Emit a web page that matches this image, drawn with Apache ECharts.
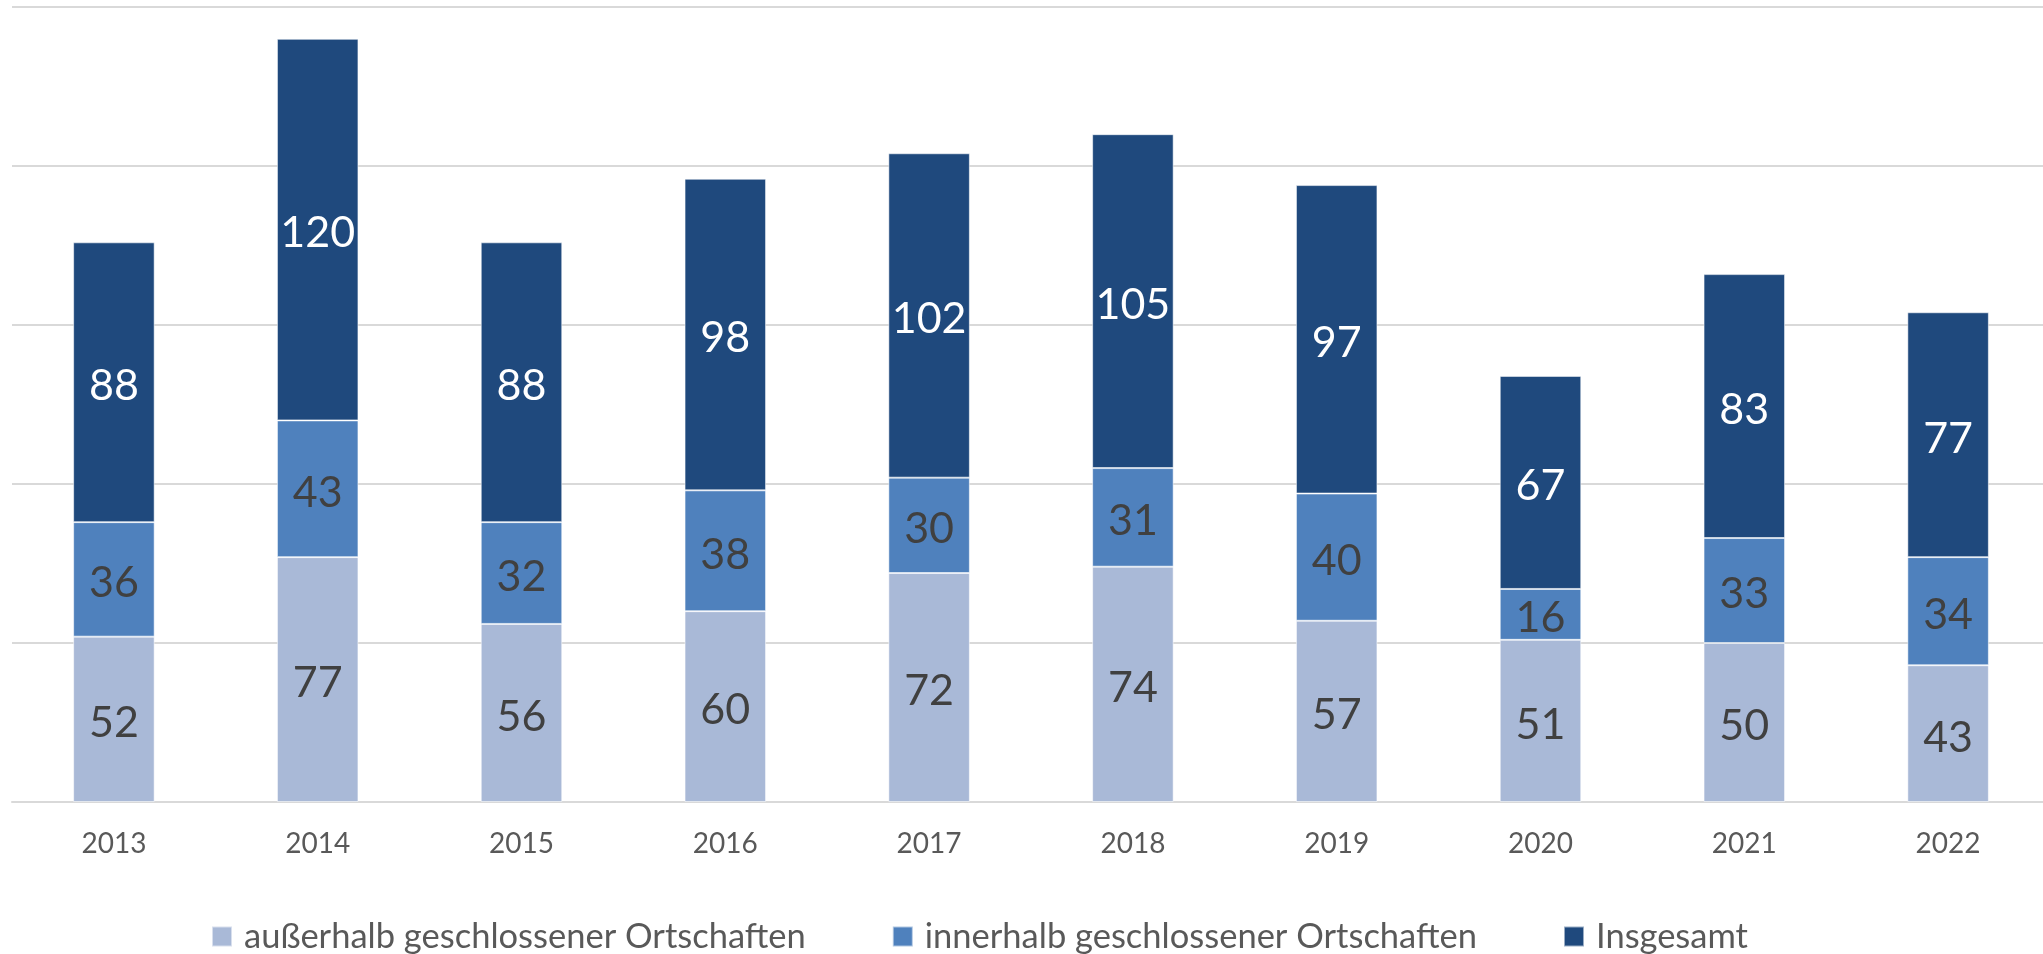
<!DOCTYPE html>
<html>
<head>
<meta charset="utf-8">
<script src="https://cdn.jsdelivr.net/npm/echarts@6/dist/echarts.min.js"></script>
<style>
  html, body { margin: 0; padding: 0; background: #fff; }
  #chart { width: 2043px; height: 954px; }
</style>
</head>
<body>
<div id="chart"></div>
<script>
const years = ["2013", "2014", "2015", "2016", "2017", "2018", "2019", "2020", "2021", "2022"];
const ausserhalb = [52, 77, 56, 60, 72, 74, 57, 51, 50, 43];
const innerhalb = [36, 43, 32, 38, 30, 31, 40, 16, 33, 34];
const insgesamt = [88, 120, 88, 98, 102, 105, 97, 67, 83, 77];

const COLORS = {
  ausserhalb: "#a9b9d7",
  innerhalb: "#4f81bd",
  insgesamt: "#1f497d",
};

const FONT = "Lato";

function barSeries(name, data, color, labelColor) {
  return {
    name: name,
    type: "bar",
    stack: "total",
    barWidth: "40%",
    data: data,
    itemStyle: {
      color: color,
      borderColor: "rgba(255,255,255,0.55)",
      borderWidth: 1,
    },
    label: {
      show: true,
      position: "inside",
      offset: [0, 4],
      color: labelColor,
      fontFamily: FONT,
      fontSize: 43,
    },
  };
}

const chart = echarts.init(document.getElementById("chart"));

const option = {
  animation: false,
  grid: {
    left: 12,
    top: 7,
    width: 2038,
    bottom: 152,
    outerBoundsMode: "none",
    containLabel: false,
  },
  legend: {
    left: 206,
    top: 914,
    itemWidth: 20,
    itemHeight: 20,
    itemGap: 86,
    icon: "rect",
    textStyle: {
      fontFamily: FONT,
      fontSize: 34.5,
      color: "#595959",
      padding: [0, 0, 0, 7],
    },
    data: ["außerhalb geschlossener Ortschaften", "innerhalb geschlossener Ortschaften", "Insgesamt"],
  },
  xAxis: {
    type: "category",
    data: years,
    axisLine: { lineStyle: { color: "#d9d9d9", width: 2 } },
    axisTick: { show: false },
    axisLabel: {
      color: "#595959",
      fontFamily: FONT,
      fontSize: 28,
      margin: 28,
    },
  },
  yAxis: {
    type: "value",
    min: 0,
    max: 250,
    interval: 50,
    axisLabel: { show: false },
    axisLine: { show: false },
    axisTick: { show: false },
    splitLine: { lineStyle: { color: "#d9d9d9", width: 2 } },
  },
  series: [
    barSeries("außerhalb geschlossener Ortschaften", ausserhalb, COLORS.ausserhalb, "#404040"),
    barSeries("innerhalb geschlossener Ortschaften", innerhalb, COLORS.innerhalb, "#404040"),
    barSeries("Insgesamt", insgesamt, COLORS.insgesamt, "#ffffff"),
  ],
};

chart.setOption(option);
</script>
</body>
</html>
